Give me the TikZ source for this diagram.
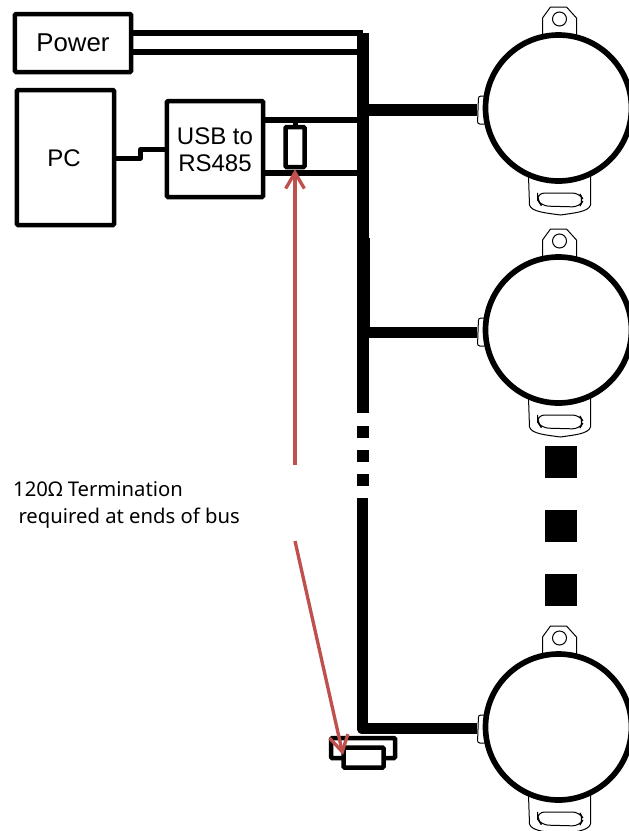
\documentclass[tikz,border=0pt]{standalone}
\usepackage{fontspec}
\setmainfont{Liberation Sans}
\newfontfamily\notefont{Noto Sans}
\usetikzlibrary{arrows.meta,positioning,calc}
\definecolor{arrowred}{HTML}{C0504D}
\begin{document}
\begin{tikzpicture}[
    x=0.03cm,y=-0.03cm,
    block/.style={draw=black,line width=1.35mm,rounded corners=1pt,fill=white,inner sep=0pt,align=center},
    wire/.style={draw=black,line width=1.8mm},
    signal/.style={draw=black,line width=1.5mm,line join=round},
    trunk/.style={draw=black,line width=3.5mm},
    resistor/.style={draw=black,line width=1.35mm,rounded corners=1pt,fill=white,inner sep=0pt},
    pointer/.style={draw=arrowred,line width=1mm,-{Straight Barb[length=4.8mm,width=5.6mm,line width=1mm]}},
    dot/.style={fill=black,inner sep=0pt,minimum size=0.96cm},
    buzzer/.pic={
      % mounting tabs
      \draw[line width=0.3mm,fill=white] (-16,-72) -- (-16,-90) -- (-8,-101) -- (8,-101) -- (18,-90) -- (18,-72);
      \draw[line width=0.3mm] (1,-89) circle (7);
      \draw[line width=0.3mm,fill=white] (-30,68) -- (-29,97) .. controls (-27,104) and (-12,105) .. (2,107) .. controls (15,105) and (30,104) .. (32,97) -- (32,68);
      \draw[line width=0.3mm,rounded corners=6pt] (-21,85) -- (21,85) -- (25,92) -- (21,99) -- (-17,98) -- (-21,92) -- cycle;
      % connector
      \draw[line width=0.3mm,rounded corners=2pt,fill=white] (-74,-12) -- (-80,-12) -- (-81,16) -- (-74,16);
      % body
      \draw[line width=1.7mm,fill=white] (0,0) circle (73);
    }
  ]
    \useasboundingbox (0,0) rectangle (629,831);
    \coordinate (bustop) at (363,33);
    \coordinate (powerlow) at (363,52);
    \coordinate (databack) at (363,120);
    \coordinate (datafront) at (363,173);

    \pic at (558.5,108) {buzzer};
    \pic at (558.5,330) {buzzer};
    \pic at (558.5,727) {buzzer};

    \node[block,minimum width=3.48cm,minimum height=1.74cm] (power) at (73,43) {};
    \node[block,minimum width=2.91cm,minimum height=4.05cm] (pc) at (65.5,157.5) {};
    \node[block,minimum width=2.88cm,minimum height=2.88cm] (usb) at (215,149) {};
    \node[font=\fontsize{22}{22}\selectfont] (powertext) at (73,43) {Power};
    \node[font=\fontsize{20.5}{20.5}\selectfont] (pctext) at (64,158) {PC};
    \node[font=\fontsize{20.5}{23}\selectfont,align=center] (usbtext) at (215,149.5) {USB to\\RS485};

    \draw[wire] (power.east |- bustop) -- (bustop);
    \draw[wire] (power.east |- powerlow) -- (powerlow);
    \draw[signal] (114,158) -- (140.5,158) -- (140.5,149.5) -- (usb.west |- 0,149.5);
    \draw[wire] (usb.east |- databack) -- (databack);
    \draw[wire] (usb.east |- datafront) -- (datafront);

    % bus
    \draw[trunk] (363,33) -- (363,413);
    \fill (357,238) rectangle (370,338);
    \foreach \ypos in {426,450,474} {
      \fill (356.5,\ypos) rectangle (368.5,\ypos+12);
    }
    \draw[trunk,line join=round] (362.5,498) -- (362.5,728.5) -- (477,728.5);
    \draw[trunk] (363,110) -- (477,110);
    \draw[trunk] (363,332.5) -- (477,332.5);

    \foreach \ypos [count=\n] in {462,526,590} {
      \node[dot] (gap\n) at (561,\ypos) {};
    }

    % termination
    \node[resistor,minimum width=0.57cm,minimum height=1.2cm] (rtop) at (295,147) {};
    \draw[signal] (databack -| rtop) -- (rtop.north);
    \node[resistor,minimum width=1.92cm,minimum height=0.6cm] (rback) at (363,748) {};
    \node[resistor,minimum width=1.2cm,minimum height=0.6cm] (rfront) at (363.5,757.5) {};

    \node[font=\notefont\fontsize{17.3}{23}\selectfont,align=left,anchor=north west,inner sep=0pt] (note) at (13,481.5) {120Ω Termination\\\ required at ends of bus};
    \coordinate (notetop) at (295,465);
    \coordinate (notelow) at (295,541);
    \draw[pointer] (notetop) -- (rtop.south);
    \draw[pointer] (notelow) -- (343,755);
  \end{tikzpicture}
\end{document}
